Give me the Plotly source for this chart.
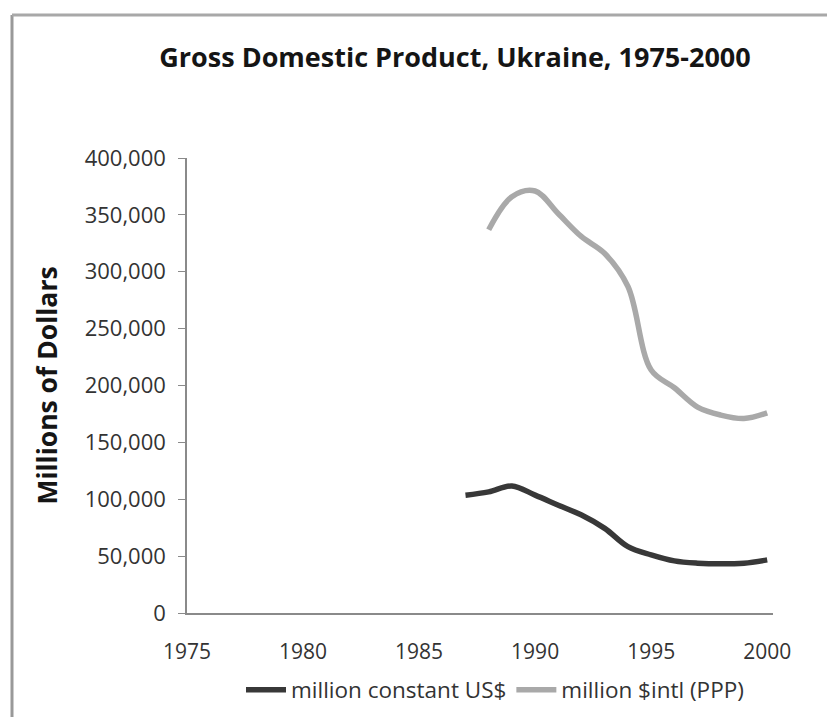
import plotly.graph_objects as go

years_usd = [1987, 1988, 1989, 1990, 1991, 1992, 1993, 1994, 1995, 1996, 1997, 1998, 1999, 2000]
gdp_const_usd = [103600, 106500, 111700, 103600, 94800, 86100, 74400, 58300, 51100, 45800, 43800, 43200, 43800, 46700]

years_ppp = [1988, 1989, 1990, 1991, 1992, 1993, 1994, 1995, 1996, 1997, 1998, 1999, 2000]
gdp_ppp = [337000, 366000, 371000, 351000, 330800, 316000, 287000, 213600, 198000, 181000, 174000, 171000, 176000]

x_ticks = [1975, 1980, 1985, 1990, 1995, 2000]
y_ticks = [0, 50000, 100000, 150000, 200000, 250000, 300000, 350000, 400000]

FONT = "Open Sans"
W, H = 835, 717          # the page body shifts the figure by 8px; overflow is clipped
L, T, PW, PH = 179, 150, 586, 455
R, B = W - L - PW, H - T - PH

fig = go.Figure()
fig.add_trace(go.Scatter(
    x=years_usd, y=gdp_const_usd, mode="lines", name="million constant US$",
    line=dict(color="#383838", width=5.5, shape="spline", smoothing=1.0),
))
fig.add_trace(go.Scatter(
    x=years_ppp, y=gdp_ppp, mode="lines", name="million $intl (PPP)",
    line=dict(color="#a9a9a9", width=5.5, shape="spline", smoothing=1.0),
))

fig.update_layout(
    width=W, height=H,
    paper_bgcolor="white", plot_bgcolor="white",
    margin=dict(l=L, r=R, t=T, b=B),
    title=dict(text="<b>Gross Domestic Product, Ukraine, 1975-2000</b>",
               x=447 / W, xanchor="center", y=1 - 50 / H, yanchor="middle",
               font=dict(family=FONT, size=27, color="#151515")),
    showlegend=True,
    legend=dict(orientation="h", x=(487 - L) / PW, xanchor="center", y=(T + PH - 682) / PH, yanchor="middle",
                font=dict(family=FONT, size=22.5, color="#333333"),
                bgcolor="rgba(0,0,0,0)", itemwidth=40, tracegroupgap=0),
    xaxis=dict(range=[1975, 2000.25], tickvals=x_ticks, ticktext=[str(v) for v in x_ticks],
               showgrid=False, zeroline=False, showline=True, linecolor="#8a8a8a", linewidth=1.5,
               ticks="", tickfont=dict(family=FONT, size=21, color="#333333"), ticklabelstandoff=19),
    yaxis=dict(range=[0, 400000], tickvals=y_ticks,
               ticktext=[f"{v:,}" for v in y_ticks],
               showgrid=False, zeroline=False, showline=True, linecolor="#8a8a8a", linewidth=1.5,
               ticks="outside", ticklen=7, tickcolor="#8a8a8a", tickwidth=1,
               tickfont=dict(family=FONT, size=22, color="#333333"), ticklabelstandoff=8,
               title=dict(text="<b>Millions of Dollars</b>", standoff=19,
                          font=dict(family=FONT, size=26.5, color="#151515"))),
)

# scanned page frame (left and top border)
fx = (4 - L) / PW
fy = (T + PH - 7) / PH
fig.add_shape(type="line", xref="paper", yref="paper",
              x0=fx, x1=fx, y0=(T + PH - H) / PH, y1=fy,
              line=dict(color="#999999", width=3))
fig.add_shape(type="line", xref="paper", yref="paper",
              x0=fx, x1=(W - L) / PW, y0=fy, y1=fy,
              line=dict(color="#a8a8a8", width=3))

fig.write_html("out.html")
